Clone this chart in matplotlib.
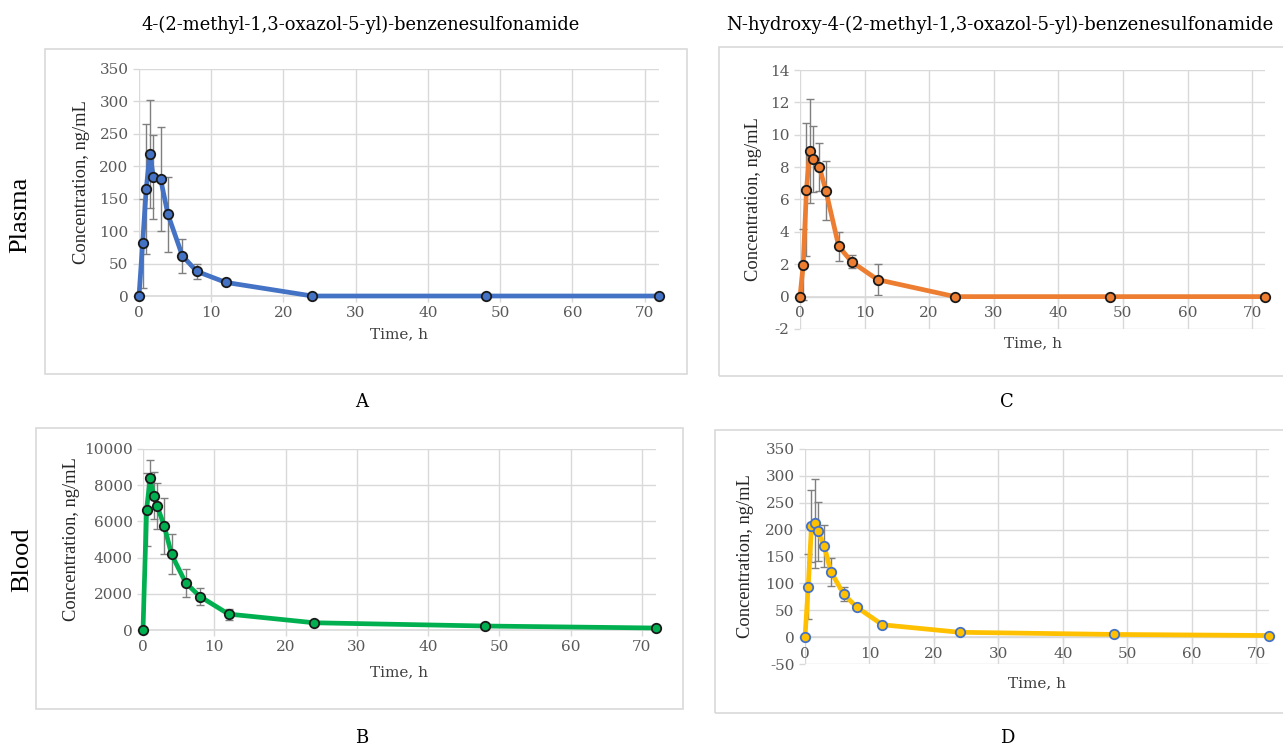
import matplotlib
matplotlib.use("Agg")
import matplotlib.pyplot as plt
from matplotlib.patches import Rectangle

plt.rcParams['font.family'] = ['DejaVu Serif']
plt.rcParams['axes.unicode_minus'] = False

time_h = [0, 0.5, 1, 1.5, 2, 3, 4, 6, 8, 12, 24, 48, 72]

plasma_parent = [0, 81, 165, 219, 183, 180, 126, 62, 38, 21, 0, 0, 0]
plasma_parent_err = [0, 68, 100, 83, 65, 80, 58, 26, 12, 3, 0, 0, 0]

blood_parent = [0, 6650, 8380, 7430, 6830, 5730, 4180, 2600, 1850, 880, 400, 220, 110]
blood_parent_err = [0, 2000, 1000, 1280, 1270, 1550, 1100, 780, 460, 300, 0, 0, 0]

plasma_hydroxy = [0, 1.97, 6.6, 9.0, 8.5, 8.0, 6.55, 3.1, 2.15, 1.05, 0, 0, 0]
plasma_hydroxy_err = [0, 2.2, 4.1, 3.2, 2.05, 1.5, 1.8, 0.9, 0.4, 0.95, 0, 0, 0]

blood_hydroxy = [0, 94, 206, 212, 197, 169, 122, 80, 56, 23, 9, 5, 3]
blood_hydroxy_err = [0, 61, 67, 83, 55, 39, 26, 13, 4, 3, 0, 0, 0]

x_ticks = [0, 10, 20, 30, 40, 50, 60, 70]
title_parent = "4-(2-methyl-1,3-oxazol-5-yl)-benzenesulfonamide"
title_hydroxy = "N-hydroxy-4-(2-methyl-1,3-oxazol-5-yl)-benzenesulfonamide"
row_labels = ["Plasma", "Blood"]
panel_letters = ["A", "B", "C", "D"]
y_label = "Concentration, ng/mL"
x_label = "Time, h"

SERIF_H = ['DejaVu Serif']
SERIF_V = ['Liberation Serif', 'DejaVu Serif']

W, H = 1283, 749
fig = plt.figure(figsize=(W / 100, H / 100), dpi=100)


def fx(px):
    return px / W


def fy(py):
    return 1 - py / H


# panel frames (pixel boxes)
frames = [(45, 49, 687, 374), (36, 428, 683, 709), (719, 47, 1295, 376), (715, 430, 1295, 713)]
for (x0, y0, x1, y1) in frames:
    fig.patches.append(Rectangle((fx(x0), fy(y1)), fx(x1 - x0), fy(y0) - fy(y1),
                                 transform=fig.transFigure, fill=False,
                                 edgecolor='#d9d9d9', linewidth=1.2))

grid_c = '#d9d9d9'
tick_c = '#595959'


def make_panel(rect_px, y, yerr, color, edge, ylim, ystep, ylab_x, xlab_y):
    x0, ytop, x1, ybot = rect_px
    ax = fig.add_axes([fx(x0), fy(ybot), fx(x1 - x0), fy(ytop) - fy(ybot)])
    ax.set_xlim(0, 72)
    ax.set_ylim(*ylim)
    ax.set_xticks(x_ticks)
    yt = list(range(ylim[0], ylim[1] + 1, ystep))
    ax.set_yticks(yt)
    ax.grid(True, color=grid_c, linewidth=1)
    ax.set_axisbelow(True)
    for s in ['top', 'right', 'left']:
        ax.spines[s].set_visible(False)
    ax.spines['bottom'].set_position(('data', 0))
    ax.spines['bottom'].set_color(grid_c)
    ax.spines['bottom'].set_linewidth(1.2)
    ax.tick_params(axis='both', colors=grid_c, labelcolor=tick_c, labelsize=11, length=4, width=1)
    ax.tick_params(axis='x', pad=3)
    for lab in ax.get_xticklabels() + ax.get_yticklabels():
        lab.set_family(SERIF_H)
    ax.errorbar(time_h, y, yerr=yerr, fmt='none', ecolor='#7f7f7f', elinewidth=1,
                capsize=2.6, capthick=1, zorder=2, clip_on=False)
    ax.plot(time_h, y, color=color, linewidth=3.4, marker='o', markersize=6.8,
            markerfacecolor=color, markeredgecolor=edge, markeredgewidth=1.3,
            zorder=3, clip_on=False)
    cy = (ytop + ybot) / 2
    fig.text(fx(ylab_x), fy(cy), y_label, rotation=90, ha='center', va='center',
             fontsize=13.3, color='#262626', family=SERIF_V)
    fig.text(fx((x0 + x1) / 2), fy(xlab_y), x_label, ha='center', va='center',
             fontsize=11, color='#404040', family=SERIF_H)
    return ax


make_panel((139, 69, 659, 296), plasma_parent, plasma_parent_err, '#4472C4', '#1a1a1a',
           (0, 350), 50, 81, 334)
make_panel((143, 449, 656, 630), blood_parent, blood_parent_err, '#00B050', '#1a1a1a',
           (0, 10000), 2000, 72, 672)
make_panel((800, 70, 1265, 329), plasma_hydroxy, plasma_hydroxy_err, '#ED7D31', '#1a1a1a',
           (-2, 14), 2, 753, 343)
make_panel((805, 449, 1269, 664), blood_hydroxy, blood_hydroxy_err, '#FFC000', '#4472C4',
           (-50, 350), 50, 745, 683)

fig.text(fx(361), fy(25), title_parent, ha='center', va='center', fontsize=12.9, family=SERIF_H)
fig.text(fx(1000), fy(25), title_hydroxy, ha='center', va='center', fontsize=13.1, family=SERIF_H)

fig.text(fx(20), fy(215), row_labels[0], rotation=90, ha='center', va='center',
         fontsize=19, family=SERIF_V)
fig.text(fx(22), fy(560), row_labels[1], rotation=90, ha='center', va='center',
         fontsize=19, family=SERIF_V)

for letter, (px, py) in zip(panel_letters, [(362, 402), (362, 738), (1007, 402), (1007, 738)]):
    fig.text(fx(px), fy(py), letter, ha='center', va='center', fontsize=13, family=SERIF_H)

fig.savefig("out.png", dpi=100)
